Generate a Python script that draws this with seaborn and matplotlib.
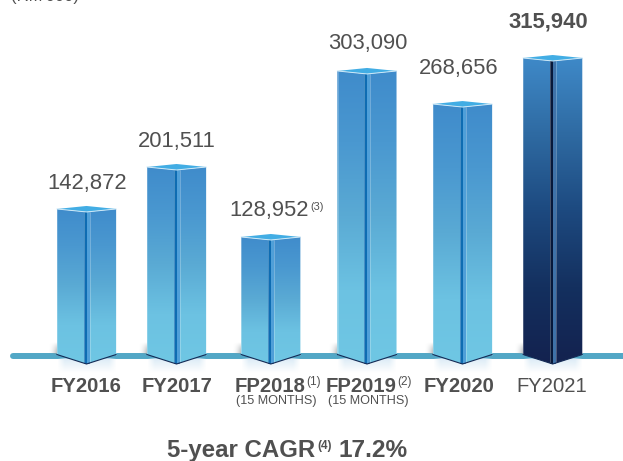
import numpy as np
import pandas as pd
import matplotlib
matplotlib.use("Agg")
import matplotlib.pyplot as plt
from matplotlib.colors import LinearSegmentedColormap, to_rgb
from matplotlib.patches import Polygon
import seaborn as sns

# Data
periods = ["FY2016", "FY2017", "FP2018", "FP2019", "FY2020", "FY2021"]
values = [142872, 201511, 128952, 303090, 268656, 315940]
# the source graphic is not quite to scale, so heights are read off the bars
drawn_heights = [154800, 199600, 124900, 302100, 266800, 315940]
period_notes = ["", "", "(1)", "(2)", "", ""]
period_subs = ["", "", "(15 MONTHS)", "(15 MONTHS)", "", ""]
value_notes = ["", "", "(3)", "", "", ""]

# Layout, in pixels of the 623x461 picture
bar_x = [86.5, 176.5, 270.8, 367, 462.5, 552.7]
tick_x = [86, 177.5, 270, 361.5, 459, 551.5]
label_x = [87, 176.5, 269.5, 368, 458.5, 548.5]
label_y = [183, 141, 210, 43, 68, 22]
sub_x = [0, 0, 276.5, 368, 0, 0]
base_px = 354
axes_bottom_px = 375
side_foot_px = 354.5
front_foot_px = 364
unit = 315940 / 296
text_col = "#505050"

sns.set_theme(style="white")
plt.rcParams["font.family"] = ["Liberation Sans", "DejaVu Sans"]

fig = plt.figure(figsize=(6.23, 4.61), dpi=100)
ax = fig.add_axes([0, 1 - axes_bottom_px / 461, 1, axes_bottom_px / 461])

df = pd.DataFrame({"x": bar_x, "height": drawn_heights, "period": periods})
sns.barplot(data=df, x="x", y="height", native_scale=True, width=59 / 89.5,
            color="#4a9ad4", ax=ax, zorder=3)


def py(px):
    return (base_px - px) * unit


def gradient(colors, extent, clip, zorder):
    cmap = LinearSegmentedColormap.from_list("g", colors)
    img = ax.imshow(np.linspace(0, 1, 256).reshape(-1, 1), cmap=cmap, aspect="auto",
                    extent=extent, origin="upper", zorder=zorder)
    if clip is not None:
        img.set_clip_path(clip)
    return img


def soft_patch(color, alpha, extent, zorder):
    # alpha is a 2D array, so the patch can fade in both directions
    rgba = np.zeros(alpha.shape + (4,))
    rgba[..., :3] = to_rgb(color)
    rgba[..., 3] = alpha
    return ax.imshow(rgba, aspect="auto", extent=extent, origin="upper", zorder=zorder)


# Ground line with a rounded left end
ax.plot([13, 640], [py(355.8), py(355.8)], color="#52a7c6", lw=4.3,
        solid_capstyle="round", zorder=1)

light_stops = ["#3f8bcb", "#4a98d0", "#5aaad4", "#6cc2e2", "#6fc7e4"]
dark_stops = ["#3f8ac9", "#2f6ba3", "#1d4a80", "#14305f", "#13224f"]

for i, bar in enumerate(ax.patches):
    x0, w, h = bar.get_x(), bar.get_width(), bar.get_height()
    x1, cx = x0 + w, x0 + w / 2
    dark = periods[i] == "FY2021"
    stops = dark_stops if dark else light_stops
    bar.set_visible(False)

    # soft shadow left of the foot
    fade_x = np.linspace(0, 1, 24) ** 2
    fade_y = np.sin(np.linspace(0, np.pi / 2, 24))
    soft_patch("#8f979b", 0.6 * np.outer(fade_y, fade_x), [x0 - 9, x0, py(354), py(342)], 2)

    # pale reflection under the foot
    refl_y = np.linspace(0.75, 0, 24)
    refl_x = np.clip(np.minimum(np.linspace(0, 8, 60), np.linspace(8, 0, 60)), 0, 1)
    soft_patch("#cfe5f3", np.outer(refl_y, refl_x), [x0, x1, py(373), py(358.6)], 2)

    # body, the lower edge folds down to the front corner
    body = Polygon([(x0, h), (cx, h - 3 * unit), (x1, h), (x1, py(side_foot_px)),
                    (cx, py(front_foot_px)), (x0, py(side_foot_px))], closed=True,
                   transform=ax.transData, fc="none", ec="none")
    ax.add_patch(body)
    gradient(stops, [x0, x1, py(front_foot_px), h + 2 * unit], body, 3)

    # edge highlights and centre spine
    strip_dark = "#07183a" if dark else "#0e6cb2"
    strip_light = "#3f72a8" if dark else "#4f9fd8"
    top = h - 3 * unit
    ax.fill_between([cx - 3, cx], py(front_foot_px), top, color=strip_dark, lw=0, zorder=4)
    ax.fill_between([cx, cx + 3], py(front_foot_px), top, color=strip_light, lw=0, zorder=4)
    for sx in (cx - 3, cx + 3):
        ax.plot([sx, sx], [py(front_foot_px), top], color="#ffffff", alpha=0.35, lw=0.5, zorder=4)
    for sx in (x0 + 0.3, x1 - 0.3):
        ax.plot([sx, sx], [py(side_foot_px), h], color="#ffffff", alpha=0.3, lw=0.5, zorder=4)

    # top cap
    cap = Polygon([(x0, h), (cx, h + 3 * unit), (x1, h), (cx, top)], closed=True,
                  fc="#42ade4", ec="none", zorder=5)
    ax.add_patch(cap)
    ax.plot([x0, cx, x1], [h, top, h], color="#cfe9f7", lw=0.7, zorder=6)

    # dark lower edge
    ax.plot([x0, cx, x1], [py(side_foot_px), py(front_foot_px), py(side_foot_px)],
            color="#142a55", lw=0.8, zorder=6)

ax.set_xlim(0, 623)
ax.set_ylim(py(axes_bottom_px), py(0))
ax.set_yticks([])
ax.set_xticks(tick_x, periods)
ax.tick_params(axis="x", length=0, pad=1.5, labelsize=14.6, labelcolor=text_col)
for tl, period in zip(ax.get_xticklabels(), periods):
    tl.set_fontweight("normal" if period == "FY2021" else "bold")
ax.set_xlabel("")
ax.set_ylabel("")
sns.despine(ax=ax, left=True, bottom=True, top=True, right=True)
ax.patch.set_alpha(0)


def fig_text(x, y, s, **kw):
    # pixel position, y counted from the top
    return fig.text(x / 623, 1 - y / 461, s, color=kw.pop("color", text_col), **kw)


fig_text(11, -3, "(RM'000)", fontsize=12, ha="left", va="center")

for i, v in enumerate(values):
    weight = "bold" if periods[i] == "FY2021" else "normal"
    fig_text(label_x[i], label_y[i], f"{v:,}", fontsize=15.8, fontweight=weight,
             ha="center", va="center")
    if value_notes[i]:
        fig_text(label_x[i] + 40.5, label_y[i] - 3.5, value_notes[i], fontsize=7.8, ha="left", va="center")
    if period_notes[i]:
        fig_text(tick_x[i] + 36, 381.5, period_notes[i], fontsize=8.5, ha="left", va="center")
    if period_subs[i]:
        fig_text(sub_x[i], 400.7, period_subs[i], fontsize=9.1, ha="center", va="center")

fig_text(167, 450.5, "5-year CAGR", fontsize=17.3, fontweight="bold", ha="left", va="center")
fig_text(317.5, 445.5, "(4)", fontsize=8.5, fontweight="bold", ha="left", va="center")
fig_text(338, 450.5, "17.2%", fontsize=17.6, fontweight="bold", ha="left", va="center")

fig.savefig("out.png", dpi=100)
